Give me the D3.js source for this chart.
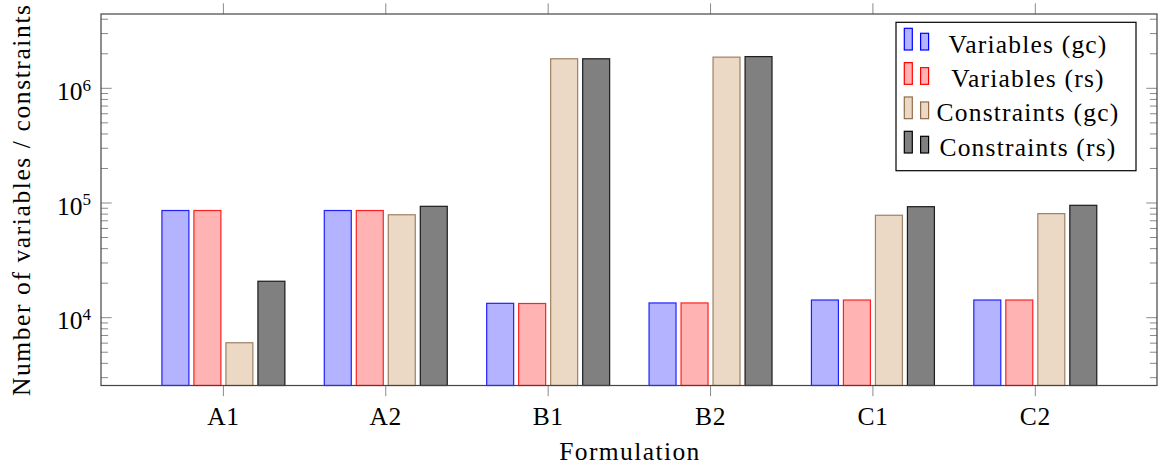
<!DOCTYPE html>
<html><head><meta charset="utf-8">
<script src="https://cdn.jsdelivr.net/npm/d3@7"></script>
<style>
html,body{margin:0;padding:0;background:#fff;}
svg text{font-family:"Liberation Serif","Times New Roman",serif;fill:#000;}
</style></head>
<body>
<svg id="chart" width="1158" height="466"></svg>
<script>
const categories = ["A1","A2","B1","B2","C1","C2"];
const seriesNames = ["Variables (gc)","Variables (rs)","Constraints (gc)","Constraints (rs)"];
const variablesGc   = [86000, 86000, 13350, 13450, 14270, 14270];
const variablesRs   = [86000, 86000, 13300, 13450, 14270, 14270];
const constraintsGc = [6050, 79000, 1810000, 1870000, 78200, 80800];
const constraintsRs = [20800, 93600, 1810000, 1890000, 92900, 95500];
const yTickValues = [1e4, 1e5, 1e6];
const yTickExponents = ["4","5","6"];
const fills = ["#b3b3ff","#ffb3b3","#ebd9c6","#808080"];
const strokes = ["#0000ff","#ff0000","#8f6d4b","#000000"];

const seriesValues = [variablesGc, variablesRs, constraintsGc, constraintsRs];

const svg = d3.select("#chart");
const pL = 101, pR = 1157, pT = 14, pB = 385.5;

const x = d3.scalePoint().domain(categories).range([223.4, 1035.3]);
const inner = d3.scaleBand().domain(seriesNames).range([-61.5, 61.5]).paddingInner(0.156);
const y = d3.scaleLog().domain([2564, 4.444e6]).range([pB, pT]);

// bars
seriesNames.forEach((s, si) => {
  svg.append("g").selectAll("rect").data(categories).join("rect")
    .attr("x", c => x(c) + inner(s))
    .attr("width", inner.bandwidth())
    .attr("y", (c, i) => y(seriesValues[si][i]))
    .attr("height", (c, i) => pB - y(seriesValues[si][i]))
    .attr("fill", fills[si])
    .attr("stroke", strokes[si])
    .attr("stroke-opacity", 0.85)
    .attr("stroke-width", 1.2);
});

// y minor ticks
const minor = [];
[1e3,1e4,1e5,1e6].forEach(d => { for (let k=2;k<=9;k++){ const v=d*k; if (v>2564 && v<4.444e6) minor.push(v);} });
const tickColor = "#8a8a8a";
const gy = svg.append("g");
gy.selectAll("line.minL").data(minor).join("line").attr("class","minL").attr("x1", pL).attr("x2", pL+7.1)
  .attr("y1", d=>y(d)).attr("y2", d=>y(d)).attr("stroke", tickColor).attr("stroke-width",1);
gy.selectAll("line.minR").data(minor).join("line").attr("class","minR").attr("x1", pR).attr("x2", pR-7.1)
  .attr("y1", d=>y(d)).attr("y2", d=>y(d)).attr("stroke", tickColor).attr("stroke-width",1);
gy.selectAll("line.majL").data(yTickValues).join("line").attr("class","majL").attr("x1", pL).attr("x2", pL+10.7)
  .attr("y1", d=>y(d)).attr("y2", d=>y(d)).attr("stroke", tickColor).attr("stroke-width",1);
gy.selectAll("line.majR").data(yTickValues).join("line").attr("class","majR").attr("x1", pR).attr("x2", pR-10.7)
  .attr("y1", d=>y(d)).attr("y2", d=>y(d)).attr("stroke", tickColor).attr("stroke-width",1);

// y tick labels
const yl = gy.selectAll("text.yl").data(yTickValues).join("text").attr("class","yl")
  .attr("x", 91).attr("y", d => y(d) + 11.7).attr("text-anchor","end").style("font-size","25.5px");
yl.append("tspan").text("10");
yl.append("tspan").text((d,i)=>yTickExponents[i]).style("font-size","17px").attr("dy", -9.3);

// x ticks top and bottom (outward)
const gx = svg.append("g");
gx.selectAll("line.xb").data(categories).join("line").attr("class","xb")
  .attr("x1", d=>x(d)).attr("x2", d=>x(d)).attr("y1", pB).attr("y2", pB+10.7)
  .attr("stroke", tickColor).attr("stroke-width",1);
gx.selectAll("line.xt").data(categories).join("line").attr("class","xt")
  .attr("x1", d=>x(d)).attr("x2", d=>x(d)).attr("y1", pT).attr("y2", pT-10.7)
  .attr("stroke", tickColor).attr("stroke-width",1);
gx.selectAll("text").data(categories).join("text")
  .attr("x", d=>x(d)).attr("y", 425).attr("text-anchor","middle")
  .style("font-size","25.5px").style("letter-spacing","0.6px").text(d=>d);

// frame
svg.append("rect").attr("x", pL).attr("y", pT).attr("width", pR-pL).attr("height", pB-pT)
  .attr("fill","none").attr("stroke","#444").attr("stroke-width",1.2);

// axis labels
svg.append("text").attr("x", (pL+pR)/2 + 1).attr("y", 460).attr("text-anchor","middle")
  .style("font-size","25.5px").style("letter-spacing","1.4px").text("Formulation");
svg.append("text").attr("transform", `translate(30,${(pT+pB)/2}) rotate(-90)`)
  .attr("text-anchor","middle").style("font-size","25.5px").style("letter-spacing","1.6px")
  .text("Number of variables / constraints");

// legend
const lg = svg.append("g");
lg.append("rect").attr("x", 896).attr("y", 22.3).attr("width", 240).attr("height", 148.4)
  .attr("fill","#fff").attr("stroke","#000").attr("stroke-width",1.2);
const rowY = d3.scalePoint().domain(seriesNames).range([52.7, 155.7]);
seriesNames.forEach((s, si) => {
  const b = rowY(s);
  lg.append("rect").attr("x", 904.3).attr("y", b-24.4).attr("width", 8).attr("height", 21.7)
    .attr("fill", fills[si]).attr("stroke", strokes[si]).attr("stroke-width",1.2);
  lg.append("rect").attr("x", 920.6).attr("y", b-19.4).attr("width", 8).attr("height", 16.7)
    .attr("fill", fills[si]).attr("stroke", strokes[si]).attr("stroke-width",1.2);
  lg.append("text").attr("x", 1028).attr("y", b).attr("text-anchor","middle")
    .style("font-size","25.5px").style("letter-spacing","1.2px").text(s);
});
</script>
</body></html>
